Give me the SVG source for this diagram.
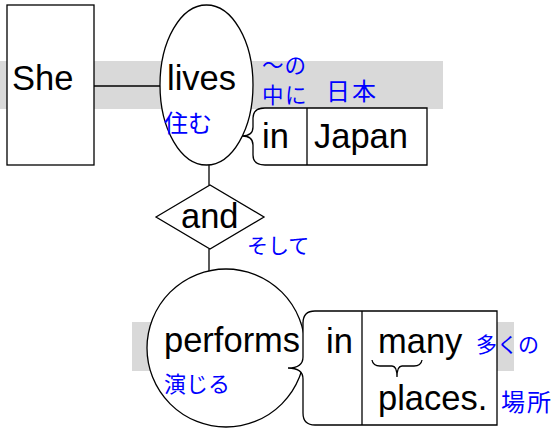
<svg xmlns="http://www.w3.org/2000/svg" width="555" height="428" viewBox="0 0 555 428">
<style>
.band{fill:#d9d9d9;stroke:none}
.shape{fill:#fff;stroke:#000;stroke-width:1.3}
.line{stroke:#000;stroke-width:1.3;fill:none}
.w{font-family:"Liberation Sans",Arial,sans-serif;font-size:34.5px;fill:#000}
.j{font-family:"Noto Sans CJK JP","Noto Sans CJK SC",sans-serif;font-size:21px;fill:#0000ff}
</style>
<rect class="band" x="0" y="61" width="443" height="48"/>
<rect class="band" x="132" y="322" width="382" height="49"/>
<g id="connectors">
<line class="line" x1="94" y1="86" x2="161" y2="86"/>
<line class="line" x1="209" y1="165" x2="209" y2="185"/>
<line class="line" x1="209" y1="249" x2="209" y2="271"/>
</g>
<g id="she">
<rect class="shape" x="7" y="5" width="87" height="160"/>
<text class="w" x="12" y="90">She</text>
</g>
<g id="lives">
<ellipse class="shape" cx="206.5" cy="85" rx="46.5" ry="80"/>
<text class="w" x="167" y="90">lives</text>
<text class="j" x="164" y="132" style="font-size:24px">住む</text>
</g>
<g id="in-japan">
<path class="shape" d="M265 108 Q253 108 253 118 L253 127 Q253 136 242 136 Q253 136 253 145 L253 155 Q253 165 265 165 L427 165 L427 108 Z"/>
<line class="line" x1="307" y1="108" x2="307" y2="165"/>
<text class="w" x="262" y="148">in</text>
<text class="w" x="314" y="148">Japan</text>
<text class="j" x="262" y="73" style="font-size:21.5px;letter-spacing:1px">〜の</text>
<text class="j" x="262" y="103" style="font-size:21.5px;letter-spacing:1.5px">中に</text>
<text class="j" x="326" y="100" style="font-size:24px;letter-spacing:2px">日本</text>
</g>
<g id="and">
<polygon class="shape" points="156,217 210,185 264,217 210,249"/>
<text class="w" x="181" y="228">and</text>
<text class="j" x="247" y="253">そして</text>
</g>
<g id="performs">
<circle class="shape" cx="226" cy="348" r="79"/>
<text class="w" x="164" y="352">performs</text>
<text class="j" x="164" y="392" style="font-size:22px">演じる</text>
</g>
<g id="in-many-places">
<path class="shape" d="M315 311 Q303 311 303 323 L303 357 Q303 368 288 368 Q303 368 303 379 L303 413 Q303 425 315 425 L497 425 L497 311 Z"/>
<line class="line" x1="362" y1="311" x2="362" y2="425"/>
<text class="w" x="326" y="353">in</text>
<text class="w" x="378" y="353">many</text>
<path class="line" d="M372 360 Q373 366 380 366 L392 366 Q397 366 397 377 Q397 366 402 366 L414 366 Q421 366 422 360"/>
<text class="w" x="378" y="410">places.</text>
<text class="j" x="476" y="352">多くの</text>
<text class="j" x="501" y="411" style="font-size:24px;letter-spacing:2px">場所</text>
</g>
</svg>
